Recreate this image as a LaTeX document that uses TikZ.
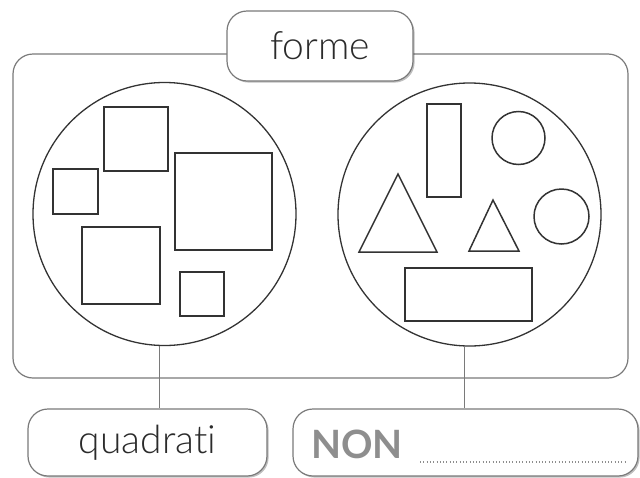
\documentclass[tikz,border=0pt]{standalone}
\usepackage{fontspec}
\setmainfont{Lato}[UprightFont={* Light}, BoldFont={* Bold}, Ligatures=NoCommon]
\usetikzlibrary{shadows,calc}
\definecolor{ink}{HTML}{333333}
\definecolor{textink}{HTML}{2B2B2B}
\definecolor{framegray}{HTML}{7A7A7A}
\definecolor{nongray}{HTML}{8E8E8E}
\tikzset{
  framestroke/.style={draw=framegray, line width=1.2pt},
  labelbox/.style={framestroke, fill=white, rounded corners=20pt, inner sep=0pt,
    drop shadow={shadow xshift=1.6pt, shadow yshift=-1.6pt, fill=black, opacity=0.25},
    font=\fontsize{39}{42}\selectfont, text=textink},
  setcircle/.style={circle, draw=ink, line width=1.3pt, minimum size=263pt, inner sep=0pt},
  figline/.style={draw=ink, line width=1.5pt, inner sep=0pt},
  connector/.style={draw=framegray, line width=1.2pt},
}
\begin{document}
\begin{tikzpicture}[x=1pt,y=-1pt]
\useasboundingbox (0,0) rectangle (640,477);
% outer frame
\node[framestroke, rounded corners=20pt, minimum width=615pt, minimum height=324pt, inner sep=0pt] (frame) at (320.5,216) {};
% circles
\node[setcircle] (lcirc) at (164.5,214) {};
\node[setcircle] (rcirc) at (469.5,214.5) {};
% squares in left circle
\node[figline, minimum width=64pt, minimum height=64pt] (sqA) at (136,139) {};
\node[figline, minimum width=45pt, minimum height=45pt] (sqB) at (75.5,191.5) {};
\node[figline, minimum width=97pt, minimum height=97pt] (sqC) at (223.5,201.5) {};
\node[figline, minimum width=78pt, minimum height=77pt] (sqD) at (121,265.5) {};
\node[figline, minimum width=44pt, minimum height=44pt] (sqE) at (202,294) {};
% shapes in right circle
\node[figline, minimum width=34pt, minimum height=93pt] (tallrect) at (444,150.5) {};
\node[figline, circle, minimum size=53pt] (circtop) at (518.5,138) {};
\node[figline, circle, minimum size=55pt] (circright) at (561.5,216.5) {};
\node[figline, minimum width=127pt, minimum height=53pt] (widerect) at (468.5,294.5) {};
\draw[draw=ink, line width=1.5pt, line join=miter] (398,174) -- (437,252) -- (359,252) -- cycle;
\draw[draw=ink, line width=1.5pt, line join=miter] (493,200) -- (519,251) -- (469,251) -- cycle;
% label boxes
\node[labelbox, minimum width=186pt, minimum height=70pt] (forme) at (320,46) {forme};
\node[labelbox, minimum width=239pt, minimum height=67pt] (qbox) at (147.5,442.5) {quadrati};
\node[labelbox, minimum width=345pt, minimum height=67pt] (nbox) at (465.5,442.5) {};
% connectors
\draw[connector] (lcirc.-92) -- (lcirc.-92 |- qbox.north);
\draw[connector] (rcirc.-92) -- (rcirc.-92 |- nbox.north);
% NON label with dotted answer line
\node[anchor=base west, inner sep=0pt, text=nongray, font=\fontsize{39}{42}\selectfont\bfseries] (non) at (311,458) {NON};
\coordinate (dotstart) at (420,462);
\coordinate (dotend) at (625,462);
\draw[draw=nongray, line width=1.3pt, dash pattern=on 1pt off 2.3pt] (dotstart) -- (dotend);
\end{tikzpicture}
\end{document}
